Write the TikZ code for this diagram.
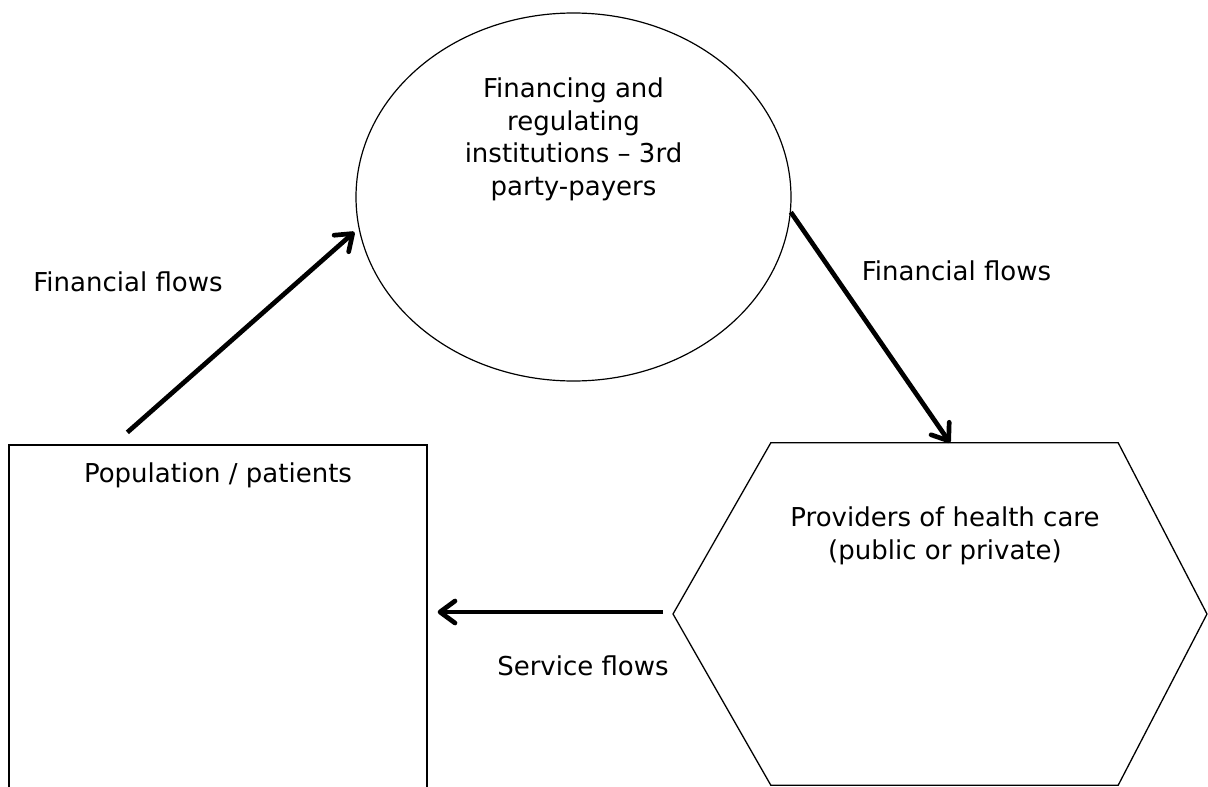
\documentclass[tikz,border=0pt]{standalone}
\usepackage{fontspec}
\setmainfont{DejaVu Sans}
\usetikzlibrary{shapes.geometric,arrows.meta}

\tikzset{
  outline/.style={draw=black, line width=1.3pt},
  flow/.style={draw=black, line width=4.7pt,
    -{Straight Barb[length=15pt,width=22pt,round]}},
  txt/.style={inner sep=0pt, font=\fontsize{26}{32.5}\selectfont, align=center},
}

\begin{document}
\begin{tikzpicture}[x=1pt,y=-1pt]
  \useasboundingbox (0,0) rectangle (1208,787);
  \clip (0,0) rectangle (1208,787);

  % financing and regulating institutions
  \node[ellipse, draw=black, line width=1.2pt, minimum width=435pt,
        minimum height=368pt, inner sep=0pt] (fin) at (573.5,197) {};
  \node[txt, anchor=north] (fintext) at (573.5,78)
    {Financing and\\regulating\\institutions – 3rd\\party-payers};

  % population / patients (box runs off the lower edge)
  \node[outline, rectangle, minimum width=418pt, minimum height=355pt,
        inner sep=0pt] (pop) at (218,622.5) {};
  \node[txt, anchor=base] (poptext) at (218,482) {Population / patients};

  % providers of health care (hexagon)
  \node[rectangle, minimum width=347pt, minimum height=342pt,
        inner sep=0pt] (prov) at (944.5,614) {};
  \coordinate (hL) at (673,614);
  \coordinate (hR) at (1207,614);
  \draw[outline, line join=miter] (prov.north west) -- (prov.north east) -- (hR)
    -- (prov.south east) -- (prov.south west) -- (hL) -- cycle;
  \node[txt, anchor=north] (provtext) at (945,507)
    {Providers of health care\\(public or private)};

  % flows
  \draw[flow] ([shift={(119,-12)}]pop.north west) -- ([shift={(-1,35)}]fin.west);
  \draw[flow] (fin.-4.75) -- ([xshift=5.5pt]prov.north);
  \draw[flow, shorten <=10pt, shorten >=10pt] ([yshift=2pt]hL) -- ([yshift=2pt]hL -| pop.east);

  % flow labels
  \node[txt, anchor=base] (lblA) at (128,291) {Financial flows};
  \node[txt, anchor=base] (lblB) at (956.5,280) {Financial flows};
  \node[txt, anchor=base] (lblC) at (583,675) {Service flows};
\end{tikzpicture}
\end{document}
